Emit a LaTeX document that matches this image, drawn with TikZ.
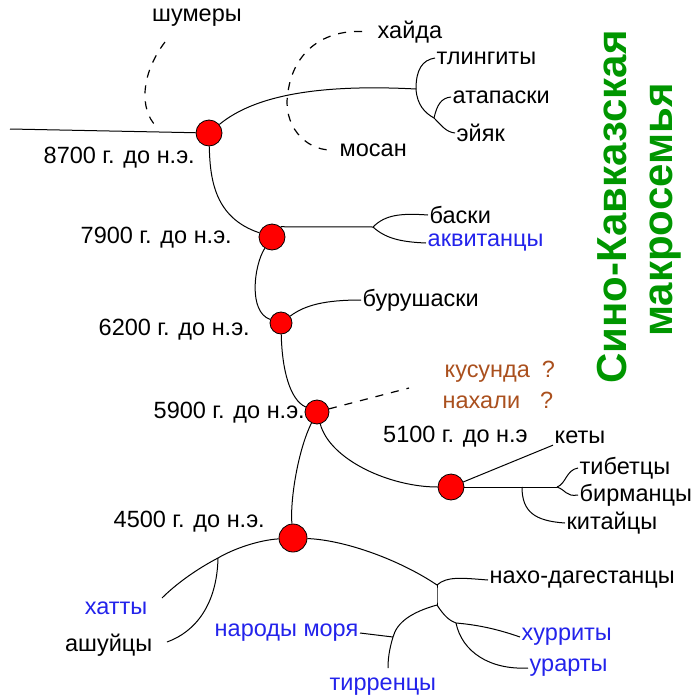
\documentclass[tikz,border=0pt]{standalone}
\usepackage{fontspec}
\setmainfont{Liberation Sans}
\definecolor{peopleblue}{RGB}{35,35,235}
\definecolor{doubtbrown}{RGB}{170,80,30}
\definecolor{familygreen}{RGB}{0,150,0}
\tikzset{
  split/.style={circle, draw, fill=red, line width=0.8pt, inner sep=0pt},
  people/.style={inner sep=1.5pt, anchor=west},
  date/.style={inner sep=0pt, anchor=east},
  branch/.style={line width=1pt},
  guess/.style={line width=1.2pt, dash pattern=on 8pt off 8pt},
}
\begin{document}
\begin{tikzpicture}[x=1pt, y=-1pt, font=\fontsize{23.5}{26}\selectfont]
  \useasboundingbox (0,0) rectangle (692,699);

  % draw split points
  \foreach \m/\x/\y/\r in {1/209/133/13, 2/272/237/13, 3/281/323/11, 4/317/412/12, 5/451/487/13, 6/293/538/14}
  \node [split, minimum size=2*\r pt] (split-\m) at (\x,\y) {};

  % draw dates
  \node [date] (date-1) at (195,158) {8700 г. до н.э.};
  \node [date] (date-2) at (232,238) {7900 г. до н.э.};
  \node [date] (date-3) at (250,330) {6200 г. до н.э.};
  \node [date] (date-4) at (305,413) {5900 г. до н.э.};
  \node [date] (date-5) at (265,522) {4500 г. до н.э.};
  \node [date, anchor=west] (date-6) at (383,437) {5100 г. до н.э};

  % draw peoples
  \node [inner sep=1.5pt] (shumery) at (197,18) {шумеры};
  \node [people] (hajda) at (376,32) {хайда};
  \node [people] (tlingity) at (435,58) {тлингиты};
  \node [people] (atapaski) at (451,97) {атапаски};
  \node [people] (ejak) at (455,133) {эйяк};
  \node [people] (mosan) at (338,150) {мосан};
  \node [people] (baski) at (428,215) {баски};
  \node [people, peopleblue] (akvitancy) at (426,243) {аквитанцы};
  \node [people] (burushaski) at (361,300) {бурушаски};
  \node [people, doubtbrown] (kusunda) at (443,372) {кусунда\hspace{12pt}?};
  \node [people, doubtbrown] (nahali) at (441,400) {нахали\hspace{20pt}?};
  \node [people] (kety) at (553,437) {кеты};
  \node [people] (tibetcy) at (578,468) {тибетцы};
  \node [people] (birmancy) at (578,495) {бирманцы};
  \node [people] (kitajcy) at (565,523) {китайцы};
  \node [people] (nakho) at (488,580) {нахо-дагестанцы};
  \node [people, peopleblue] (hurrity) at (520,637) {хурриты};
  \node [people, peopleblue] (urarty) at (528,668) {урарты};
  \node [people, peopleblue] (tirrency) at (328,687) {тирренцы};
  \node [people, peopleblue, anchor=east] (narody) at (360,633) {народы моря};
  \node [people, peopleblue, anchor=east] (hatty) at (149,608) {хатты};
  \node [people, anchor=east] (ashujcy) at (154,645) {ашуйцы};

  % draw family name
  \node [rotate=90, familygreen, font=\fontsize{42}{46}\bfseries] (sino) at (612,207) {Сино-Кавказская};
  \node [rotate=90, familygreen, font=\fontsize{42}{46}\bfseries] (makro) at (666,210) {макросемья};

  % forks and free ends
  \coordinate (root) at (10,129);
  \coordinate (shumery-end) at (165,42);
  \coordinate (shumery-foot) at (156,126);
  \coordinate (fork-1) at (416,89);
  \coordinate (fork-2) at (434,118);
  \coordinate (fork-3) at (373,227);
  \coordinate (doubt-end) at (409,388);
  \coordinate (fork-4) at (557,487);
  \coordinate (fork-5) at (522,487);
  \coordinate (fork-6) at (218,558);
  \coordinate (hatty-end) at (162,598);
  \coordinate (ashujcy-end) at (167,642);
  \coordinate (fork-7) at (437,585);
  \coordinate (fork-8) at (437,605);
  \coordinate (fork-9) at (393,637);
  \coordinate (tirrency-end) at (388,668);
  \coordinate (fork-10) at (456,623);

  % draw branches
  \draw [branch] (root) -- (split-1);
  \draw [guess] (shumery-end) .. controls (140,75) and (140,110) .. (shumery-foot);
  \draw [branch] (split-1) .. controls (255,95) and (320,84) .. (fork-1);
  \draw [branch] (fork-1) .. controls (416,70) and (422,60) .. (tlingity.west);
  \draw [branch] (fork-1) .. controls (417,105) and (425,113) .. (fork-2);
  \draw [branch] (fork-2) .. controls (442,126) and (446,132) .. (ejak.west);
  \draw [branch] (fork-2) .. controls (437,105) and (441,98) .. (atapaski.west);
  \draw [guess, shorten <=14pt, shorten >=7pt] (hajda.west) .. controls (320,30) and (293,55) .. (288,92)
    .. controls (282,125) and (305,150) .. (mosan.west);

  \draw [branch] (split-1) .. controls (210,180) and (215,218) .. (split-2);
  \draw [branch] (split-2.50) -- (fork-3);
  \draw [branch] (fork-3) .. controls (385,215) and (400,213) .. (baski.west);
  \draw [branch] (fork-3) .. controls (385,238) and (400,242) .. (akvitancy.west);

  \draw [branch] (split-2) .. controls (254,265) and (248,312) .. (split-3);
  \draw [branch] (split-3) .. controls (305,305) and (325,300) .. (burushaski.west);

  \draw [branch] (split-3) .. controls (282,370) and (290,400) .. (split-4);
  \draw [guess] (split-4) -- (doubt-end);

  \draw [branch] (split-4) .. controls (330,460) and (390,487) .. (split-5);
  \draw [branch] (split-5) -- (kety.south west);
  \draw [branch] (split-5) -- (fork-4);
  \draw [branch] (fork-4) .. controls (566,484) and (566,470) .. (tibetcy.west);
  \draw [branch] (fork-4) .. controls (566,490) and (566,497) .. (birmancy.west);
  \draw [branch] (fork-5) .. controls (522,512) and (535,521) .. (kitajcy.west);

  \draw [branch] (split-4) .. controls (298,450) and (290,500) .. (split-6);
  \draw [branch] (split-6) .. controls (260,540) and (235,548) .. (fork-6);
  \draw [branch] (fork-6) .. controls (195,570) and (175,585) .. (hatty-end);
  \draw [branch] (fork-6) .. controls (217,605) and (195,632) .. (ashujcy-end);

  \draw [branch] (split-6) .. controls (345,540) and (400,560) .. (fork-7);
  \draw [branch] (fork-7) .. controls (447,576) and (462,578) .. (nakho.west);
  \draw [branch] (fork-7) .. controls (437,592) and (437,600) .. (fork-8);
  \draw [branch] (fork-8) .. controls (412,612) and (397,622) .. (fork-9)
    .. controls (389,650) and (388,660) .. (tirrency-end);
  \draw [branch] (fork-9) -- (narody.east);
  \draw [branch] (fork-8) .. controls (444,616) and (450,621) .. (fork-10);
  \draw [branch] (fork-10) .. controls (480,625) and (500,630) .. (hurrity.west);
  \draw [branch] (fork-10) .. controls (462,652) and (490,670) .. (urarty.west);

\end{tikzpicture}
\end{document}
